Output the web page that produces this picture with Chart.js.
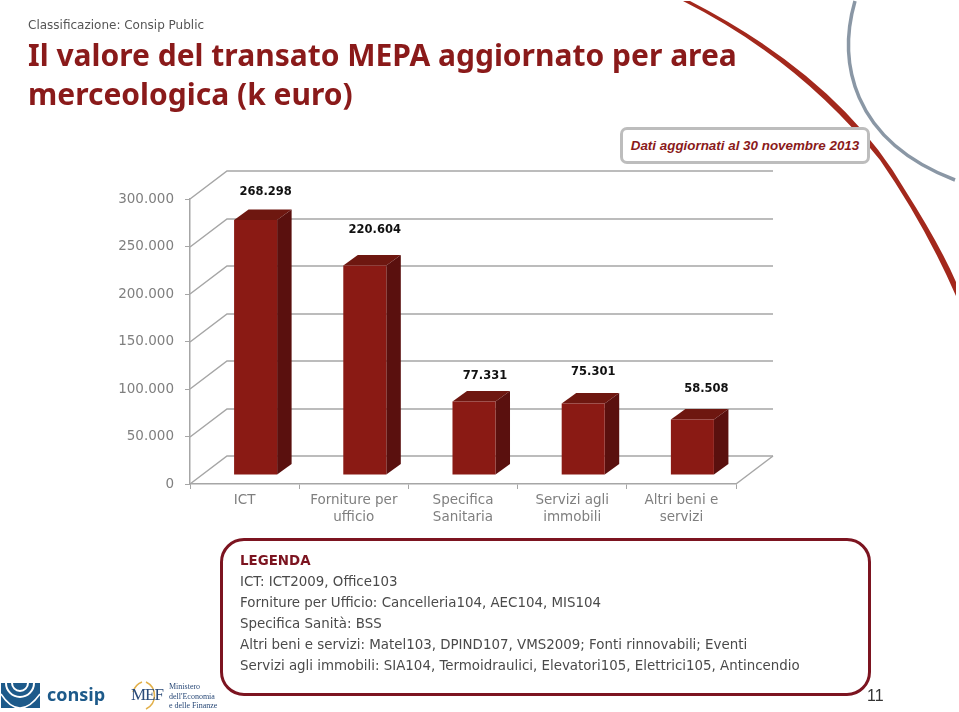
<!DOCTYPE html>
<html lang="it">
<head>
<meta charset="utf-8">
<title>Il valore del transato MEPA</title>
<script src="https://cdn.jsdelivr.net/npm/chart.js@4"></script>
<style>
  html, body { margin: 0; padding: 0; background: #fff; }
  #page { position: relative; width: 959px; height: 712px; overflow: hidden; font-family: "DejaVu Sans", sans-serif; }
  #page > * { position: absolute; }
  #decor { left: 0; top: 0; }
  #chart { left: 0; top: 0; }
  #class { left: 28px; top: 18px; font-size: 12px; color: #555; white-space: nowrap; }
  #title { left: 28px; top: 35px; font: bold 30px/39px "Noto Sans", sans-serif; color: #8a1a1a; white-space: nowrap; }
  #badge { left: 620px; top: 127px; width: 244px; height: 31px; border: 3px solid #bdbdbd; border-radius: 7px; background: #fff;
           font: italic bold 13.4px/31px "Liberation Sans", sans-serif; color: #8a1a1a; text-align: center; }
  #legend { left: 220px; top: 538px; width: 645px; height: 152px; border: 3px solid #7c1420; border-radius: 24px; }
  .ll { left: 240px; font-size: 13.4px; color: #4a4a4a; white-space: nowrap; line-height: 16px; }
  #pageno { left: 867px; top: 687px; font: 16px "Liberation Sans", sans-serif; color: #333; }
  #consip { left: 47px; top: 682px; font: bold 18px "Open Sans", sans-serif; color: #1d5a8a; }
  #mef { left: 131px; top: 685px; font: 17px "Liberation Serif", serif; color: #2a4a78; letter-spacing: -1px; }
  #mef2 { left: 169px; top: 682px; font: 8px/9.5px "Liberation Serif", serif; color: #2a4a78; }
</style>
</head>
<body>
<div id="page">
  <svg id="decor" width="959" height="712">
    <path d="M683 1 L690 1 Q840 78 905 190 Q940 245 956 282 L956 296 Q925 225 880 160 Q800 60 683 1 Z" fill="#a3281c"/>
    <path d="M855 1 C838 60 850 140 955 180" fill="none" stroke="#8a97a5" stroke-width="3.5"/>
    <rect x="1" y="683" width="39" height="25" fill="#1d5a8a"/>
    <path d="M6 683 A14 14 0 0 0 34 683 M12 683 A8 8 0 0 0 28 683" fill="none" stroke="#fff" stroke-width="2"/>
    <path d="M1 694 Q10 708 20 708 M40 694 Q30 708 20 708" fill="none" stroke="#fff" stroke-width="1.5"/>
    <path d="M146 682 A15 15 0 0 1 146 709" fill="none" stroke="#e2b04a" stroke-width="1.5"/>
    <path d="M142 682 A15 15 0 0 0 133 692" fill="none" stroke="#e2b04a" stroke-width="1.5"/>
  </svg>
  <canvas id="chart" width="959" height="712"></canvas>
  <div id="class">Classificazione: Consip Public</div>
  <div id="title">Il valore del transato MEPA aggiornato per area<br>merceologica (k euro)</div>
  <div id="badge">Dati aggiornati al 30 novembre 2013</div>
  <div id="legend"></div>
  <div class="ll" style="top:553px;color:#7c1420;font-weight:bold">LEGENDA</div>
  <div class="ll" style="top:574px">ICT: ICT2009, Office103</div>
  <div class="ll" style="top:595px">Forniture per Ufficio: Cancelleria104, AEC104, MIS104</div>
  <div class="ll" style="top:616px">Specifica Sanità: BSS</div>
  <div class="ll" style="top:637px">Altri beni e servizi: Matel103, DPIND107, VMS2009; Fonti rinnovabili; Eventi</div>
  <div class="ll" style="top:658px">Servizi agli immobili: SIA104, Termoidraulici, Elevatori105, Elettrici105, Antincendio</div>
  <div id="pageno">11</div>
  <div id="consip">consip</div>
  <div id="mef">MEF</div>
  <div id="mef2">Ministero<br>dell'Economia<br>e delle Finanze</div>
</div>
<script>
  // dati
  const categories = [['ICT'], ['Forniture per', 'ufficio'], ['Specifica', 'Sanitaria'], ['Servizi agli', 'immobili'], ['Altri beni e', 'servizi']];
  const values = [268298, 220604, 77331, 75301, 58508];
  const yTicks = [0, 50000, 100000, 150000, 200000, 250000, 300000];

  const fmt = (v) => String(v).replace(/\B(?=(\d{3})+$)/g, '.');

  // finto 3D: parete di fondo, facce laterali, etichette
  const WALL_DX = 37, WALL_DY = -28;
  const BAR_DX = 11, BAR_DY = -9;
  const DEPTH_DX = 14.5, DEPTH_DY = -10.5;
  const labelNudge = [[10, -28], [10, -35], [11, -26], [10, -31], [14, -30]];

  const fake3d = {
    id: 'fake3d',
    beforeDatasetsDraw(chart) {
      const { ctx, chartArea: a, scales: { y } } = chart;
      ctx.save();
      ctx.strokeStyle = '#a6a6a6';
      ctx.lineWidth = 1.5;
      yTicks.forEach((t) => {
        const py = Math.round(y.getPixelForValue(t));
        ctx.beginPath();
        ctx.moveTo(a.left, py);
        ctx.lineTo(a.left + WALL_DX, py + WALL_DY);
        ctx.lineTo(a.right + WALL_DX, py + WALL_DY);
        ctx.stroke();
      });
      // pavimento a destra
      ctx.beginPath();
      ctx.moveTo(a.right, a.bottom);
      ctx.lineTo(a.right + WALL_DX, a.bottom + WALL_DY);
      ctx.stroke();

      chart.getDatasetMeta(0).data.forEach((bar) => {
        const l = bar.x - bar.width / 2 + BAR_DX;
        const r = bar.x + bar.width / 2 + BAR_DX;
        const t = bar.y + BAR_DY;
        const b = bar.base + BAR_DY;
        ctx.fillStyle = '#6e1710';
        ctx.beginPath();
        ctx.moveTo(l, t);
        ctx.lineTo(l + DEPTH_DX, t + DEPTH_DY);
        ctx.lineTo(r + DEPTH_DX, t + DEPTH_DY);
        ctx.lineTo(r, t);
        ctx.fill();
        ctx.fillStyle = '#5a100e';
        ctx.beginPath();
        ctx.moveTo(r, t);
        ctx.lineTo(r + DEPTH_DX, t + DEPTH_DY);
        ctx.lineTo(r + DEPTH_DX, b + DEPTH_DY);
        ctx.lineTo(r, b);
        ctx.fill();
      });
      ctx.restore();
      // la faccia frontale sta nel piano medio
      ctx.save();
      ctx.translate(BAR_DX, BAR_DY);
    },
    afterDatasetsDraw(chart) {
      const { ctx } = chart;
      ctx.restore();
      ctx.save();
      ctx.font = 'bold 11.5px "DejaVu Sans"';
      ctx.fillStyle = '#111';
      ctx.textAlign = 'center';
      ctx.textBaseline = 'middle';
      chart.getDatasetMeta(0).data.forEach((bar, i) => {
        const [nx, ny] = labelNudge[i];
        ctx.fillText(fmt(values[i]), bar.x + BAR_DX + nx, bar.y + BAR_DY + ny);
      });
      ctx.restore();
    }
  };

  new Chart(document.getElementById('chart'), {
    type: 'bar',
    data: {
      labels: categories,
      datasets: [{ data: values, backgroundColor: '#8a1a14', categoryPercentage: 1, barPercentage: 0.394, clip: false }]
    },
    options: {
      responsive: false,
      animation: false,
      devicePixelRatio: 1,
      layout: { padding: { left: 0, right: 223, top: 199, bottom: 0 } },
      plugins: { legend: { display: false }, tooltip: { enabled: false } },
      scales: {
        x: {
          afterFit(s) { s.height = 228; },
          grid: { drawOnChartArea: false, tickLength: 5, color: '#a6a6a6' },
          border: { color: '#a6a6a6', width: 1.5 },
          ticks: { color: '#7f7f7f', font: { family: '"DejaVu Sans"', size: 13.5, lineHeight: 1.26 }, maxRotation: 0, autoSkip: false, padding: 3 }
        },
        y: {
          min: 0,
          max: 300000,
          afterFit(s) { s.width = 190; },
          afterBuildTicks(s) { s.ticks = yTicks.map((v) => ({ value: v })); },
          grid: { drawOnChartArea: false, tickLength: 5, color: '#a6a6a6' },
          border: { color: '#a6a6a6', width: 1.5 },
          ticks: { color: '#7f7f7f', font: { family: '"DejaVu Sans"', size: 13.5 }, padding: 11, callback: (v) => fmt(v) }
        }
      }
    },
    plugins: [fake3d]
  });
</script>
</body>
</html>
